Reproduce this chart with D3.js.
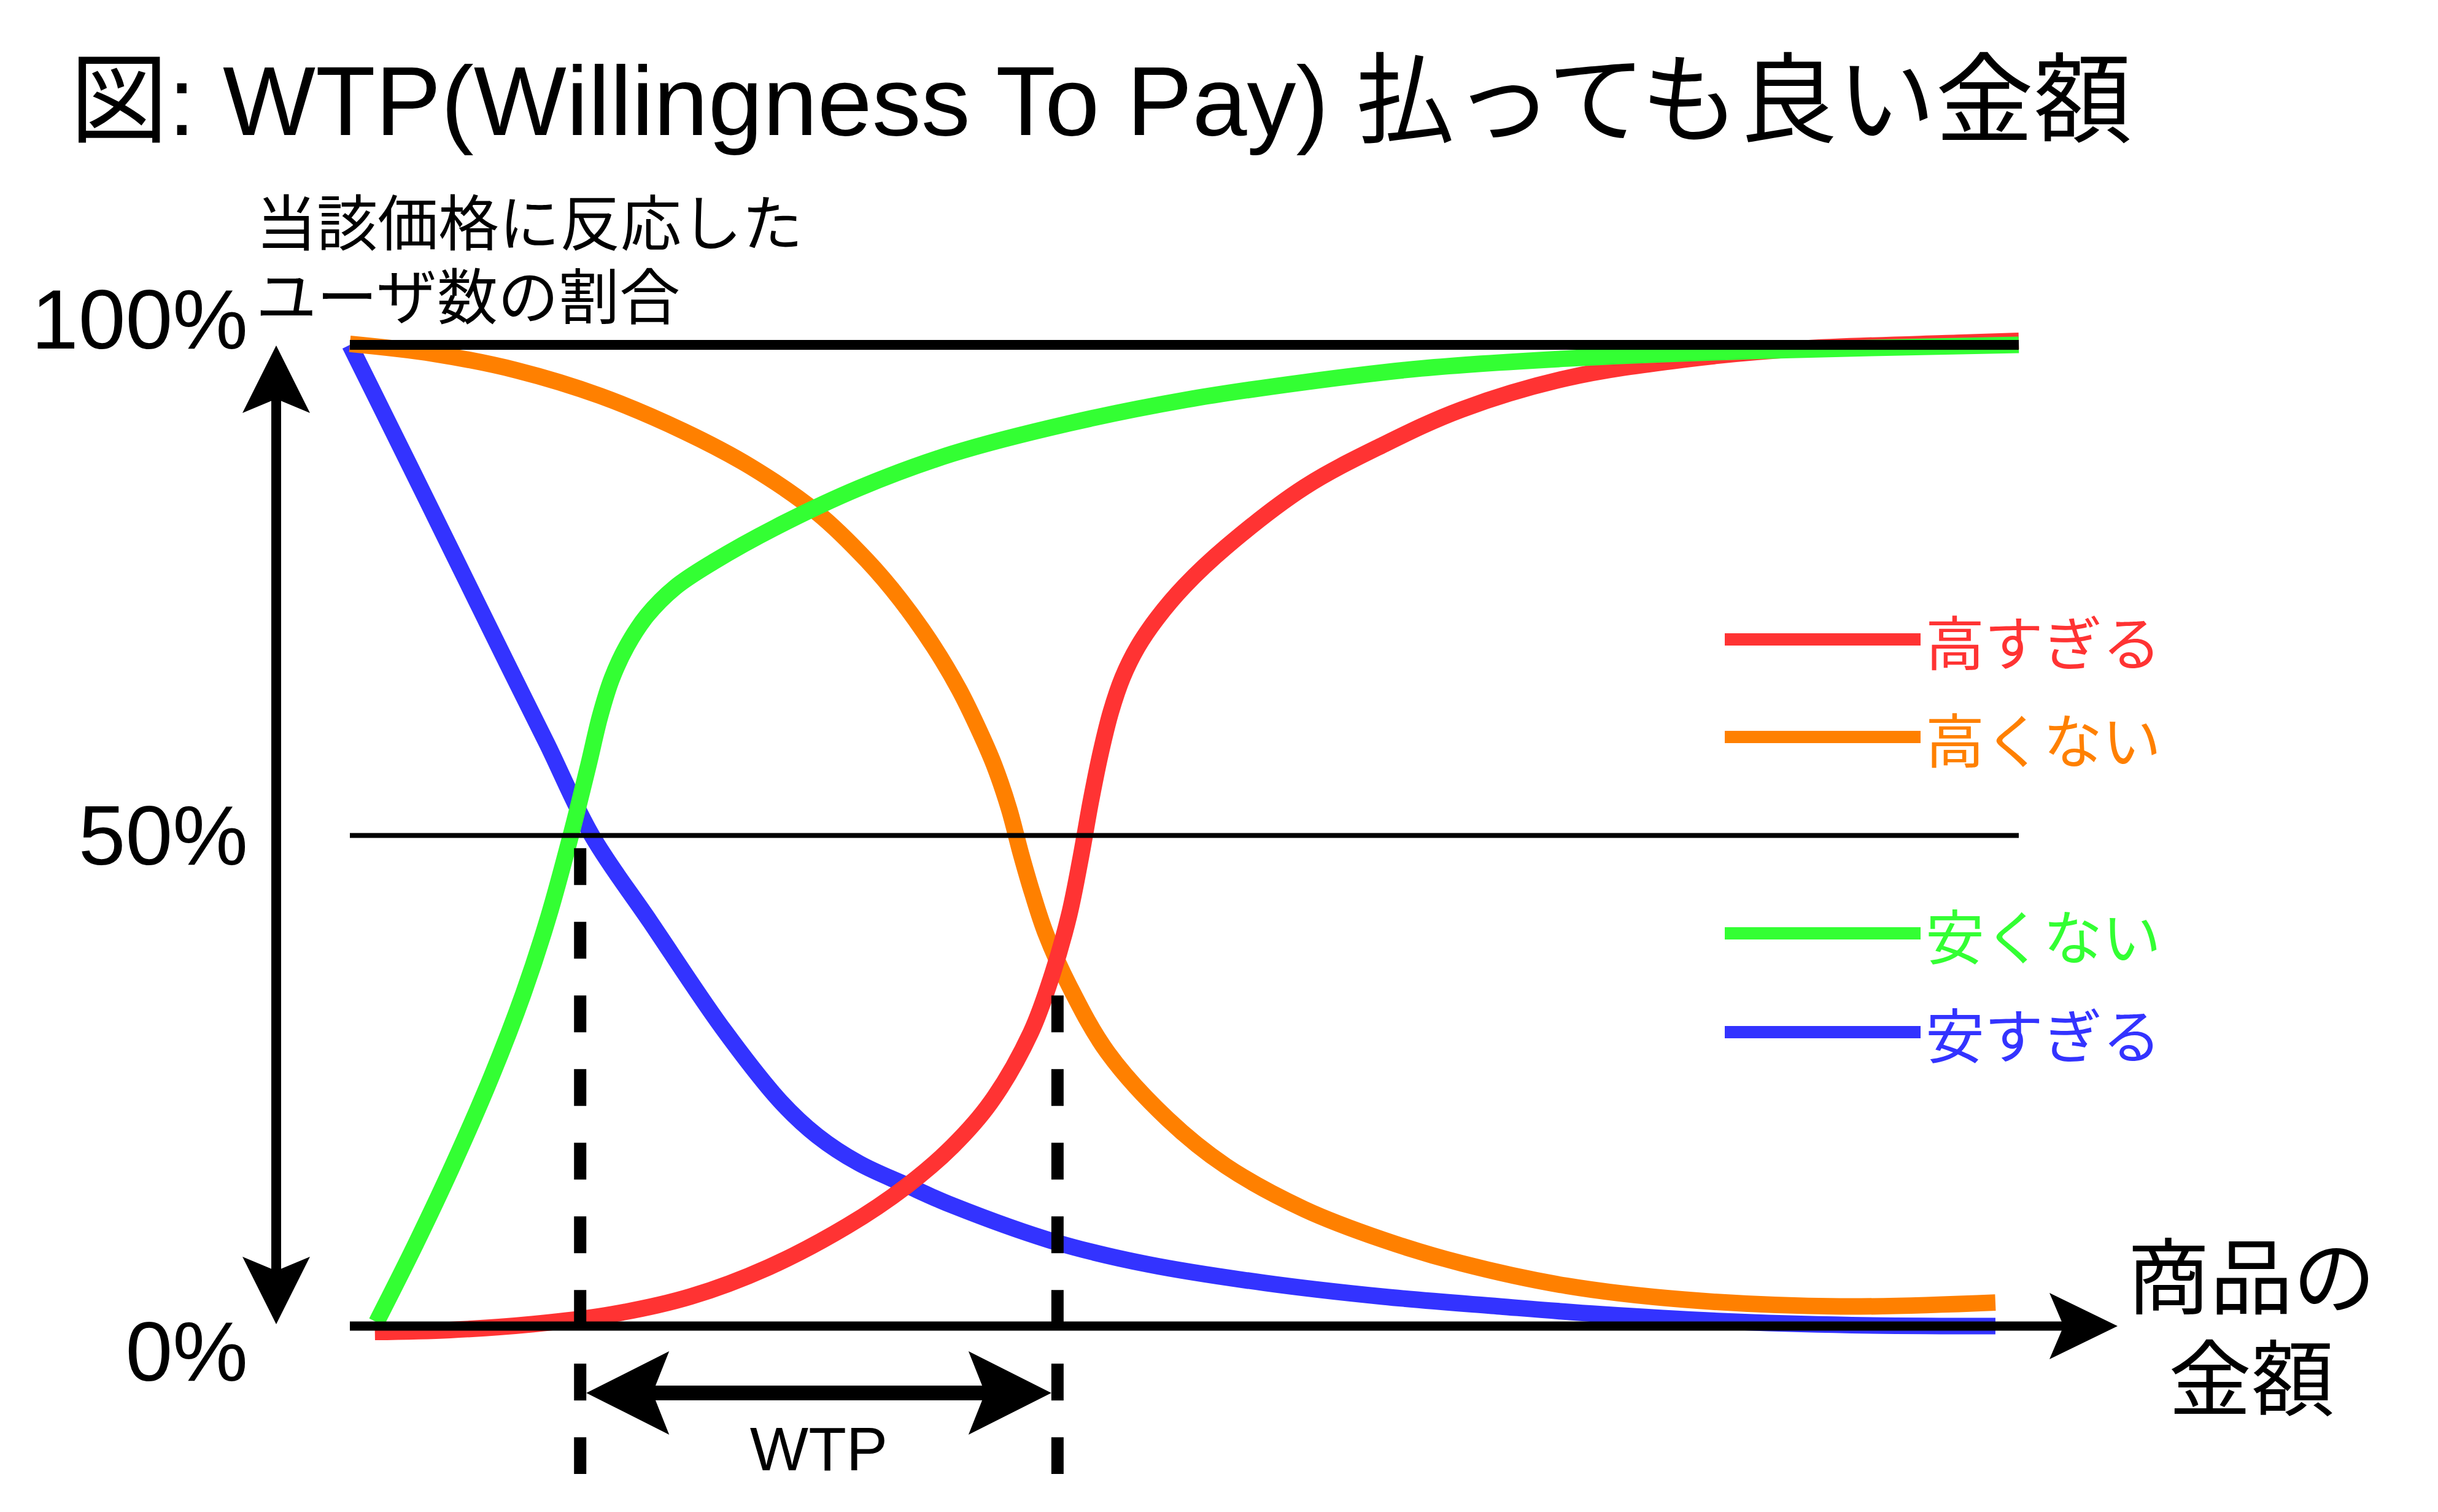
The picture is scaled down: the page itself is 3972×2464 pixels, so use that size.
<!DOCTYPE html>
<html>
<head>
<meta charset="utf-8">
<script src="https://cdn.jsdelivr.net/npm/d3@7"></script>
<style>
  html, body { margin: 0; padding: 0; background: #ffffff; }
  svg { display: block; }
</style>
</head>
<body>
<svg id="chart" width="3972" height="2464"></svg>
<script>
// ---------------- DATA ----------------
const titleText = "図: WTP(Willingness To Pay) 払っても良い金額";
const yAxisTitleLines = ["当該価格に反応した", "ユーザ数の割合"];
const xAxisTitleLines = ["商品の", "金額"];
const yTickValues = [0, 50, 100];
const yTickLabels = ["0%", "50%", "100%"];
const seriesNames = ["高すぎる", "高くない", "安くない", "安すぎる"];

// [price (0-100 scale), share of users %]
const tooExpensive = [[1.5,-0.6],[6.0,-0.4],[11.0,0.2],[15.7,1.2],[20.4,3.0],[25.1,6.0],[29.8,10.2],[33.3,14.2],[36.1,18.3],[38.4,22.8],[40.8,29.9],[42.1,35.9],[43.1,41.9],[43.8,47.8],[44.4,53.5],[45.0,58.5],[45.6,62.6],[46.3,66.1],[47.2,69.2],[48.4,72.2],[50.0,75.4],[52.5,79.4],[57.2,85.5],[61.9,89.8],[66.6,93.4],[72.9,96.6],[79.9,98.5],[86.9,99.6],[96.3,100.2],[100,100.4]];
const notExpensive = [[0,100.1],[5,99.1],[10,97.4],[15,94.8],[20,91.2],[24,87.6],[28,82.9],[31,78.0],[33,74.0],[35,69.2],[36.5,64.9],[37.6,61.1],[38.6,57.2],[39.5,52.7],[40.2,48.2],[40.9,44.1],[41.7,40.0],[43.1,34.7],[45.4,27.9],[49.0,21.1],[52.5,16.3],[57.2,11.9],[61.9,8.8],[66.6,6.4],[72.9,4.1],[79.9,2.7],[89.3,2.0],[98.6,2.4]];
const notCheap = [[1.6,0.4],[3.9,8.2],[6.2,16.5],[8.5,25.5],[10.4,33.9],[11.9,41.7],[13.3,50.4],[14.3,57.2],[15.0,62.2],[15.7,66.0],[16.6,69.3],[17.8,72.4],[19.5,75.3],[21.8,77.9],[25.5,81.4],[30.5,85.4],[36.1,88.9],[43.1,92.0],[50.1,94.4],[57.2,96.2],[64.2,97.6],[72.9,98.6],[84.6,99.4],[100,100]];
const tooCheap = [[0,100],[2.1,92.8],[4.6,84.2],[7.0,75.9],[9.4,67.6],[11.8,59.4],[14.5,50.0],[18.0,41.2],[22.4,30.2],[25.8,22.9],[28.0,19.4],[30.5,16.6],[33.3,14.4],[36.1,12.3],[42.4,8.5],[47.8,6.3],[54.8,4.4],[61.9,3.0],[68.9,2.0],[75.0,1.2],[82.2,0.5],[90.0,0.1],[98.6,0.0]];

// WTP range bounds (price) and the share level where each dashed marker starts
const wtpBounds = [13.8, 42.4];
const wtpMarkerTop = [48.7, 33.7];
const wtpLabel = "WTP";

// ---------------- STYLE / LAYOUT ----------------
const colors = ["#ff3333", "#ff8000", "#33ff33", "#3333ff"];
const latin = "'Liberation Sans', Arial, Helvetica, sans-serif";
const cjk = "'Noto Sans CJK JP', 'Noto Sans CJK SC', sans-serif";
const mixed = "'Liberation Sans', Arial, 'Noto Sans CJK JP', sans-serif";

const svg = d3.select("#chart");
svg.append("rect").attr("width", 3972).attr("height", 2464).attr("fill", "#fff");

const x = d3.scaleLinear().domain([0, 100]).range([570, 3289]);
const y = d3.scaleLinear().domain([0, 100]).range([2161, 562]);

// ---------- curves (bottom -> top: blue, orange, red, green) ----------
const seriesData = [tooExpensive, notExpensive, notCheap, tooCheap];
const drawOrder = [3, 1, 0, 2];
const line = d3.line().x(d => x(d[0])).y(d => y(d[1])).curve(d3.curveCatmullRom.alpha(0.5));
const gCurves = svg.append("g");
drawOrder.forEach(i => {
  gCurves.append("path")
    .attr("d", line(seriesData[i]))
    .attr("fill", "none")
    .attr("stroke", colors[i])
    .attr("stroke-width", 27)
    .attr("stroke-linecap", "butt")
    .attr("stroke-linejoin", "round");
});

// ---------- reference lines ----------
const gLines = svg.append("g");
gLines.append("line")
  .attr("x1", x(0)).attr("x2", x(100))
  .attr("y1", y(100)).attr("y2", y(100))
  .attr("stroke", "#000").attr("stroke-width", 16);
gLines.append("line")
  .attr("x1", x(0)).attr("x2", x(100))
  .attr("y1", y(50)).attr("y2", y(50))
  .attr("stroke", "#000").attr("stroke-width", 8);

function headPath(tx, ty, dx, dy, len, notch, half) {
  const px = -dy, py = dx;
  const pts = [
    [tx, ty],
    [tx - dx * len + px * half, ty - dy * len + py * half],
    [tx - dx * notch, ty - dy * notch],
    [tx - dx * len - px * half, ty - dy * len - py * half]
  ];
  return "M" + pts.map(p => p.join(",")).join("L") + "Z";
}

// x axis with arrow
const xTip = 3450;
gLines.append("line")
  .attr("x1", x(0)).attr("x2", xTip - 88)
  .attr("y1", y(0)).attr("y2", y(0))
  .attr("stroke", "#000").attr("stroke-width", 15);
gLines.append("path").attr("d", headPath(xTip, y(0), 1, 0, 111, 88, 54)).attr("fill", "#000");

// y double arrow
const yArrowX = 450;
const yTopTip = y(100) + 1, yBotTip = y(0) - 3;
gLines.append("line")
  .attr("x1", yArrowX).attr("x2", yArrowX)
  .attr("y1", yTopTip + 87).attr("y2", yBotTip - 87)
  .attr("stroke", "#000").attr("stroke-width", 16);
gLines.append("path").attr("d", headPath(yArrowX, yTopTip, 0, -1, 110, 87, 55)).attr("fill", "#000");
gLines.append("path").attr("d", headPath(yArrowX, yBotTip, 0, 1, 110, 87, 55)).attr("fill", "#000");

// WTP dashed markers
const dashBottom = 2402;
wtpBounds.forEach((b, i) => {
  gLines.append("line")
    .attr("x1", x(b)).attr("x2", x(b))
    .attr("y1", y(wtpMarkerTop[i])).attr("y2", dashBottom)
    .attr("stroke", "#000").attr("stroke-width", 20)
    .attr("stroke-dasharray", "60 60");
});

// WTP double arrow
const wtpY = 2270;
const wL = x(wtpBounds[0]) + 10, wR = x(wtpBounds[1]) - 10;
gLines.append("line")
  .attr("x1", wL + 105).attr("x2", wR - 105)
  .attr("y1", wtpY).attr("y2", wtpY)
  .attr("stroke", "#000").attr("stroke-width", 24);
gLines.append("path").attr("d", headPath(wL, wtpY, -1, 0, 135, 108, 68)).attr("fill", "#000");
gLines.append("path").attr("d", headPath(wR, wtpY, 1, 0, 135, 108, 68)).attr("fill", "#000");
svg.append("text")
  .attr("x", (wL + wR) / 2).attr("y", 2396)
  .attr("text-anchor", "middle")
  .attr("font-family", latin).attr("font-size", 101)
  .attr("fill", "#000")
  .text(wtpLabel);

// ---------- texts ----------
svg.append("text")
  .attr("x", 114).attr("y", 220)
  .attr("font-family", mixed).attr("font-size", 160)
  .attr("fill", "#000")
  .text(titleText);

const yTitleY = [357, 477];
yAxisTitleLines.forEach((t, i) => {
  svg.append("text")
    .attr("x", 417).attr("y", yTitleY[i])
    .attr("dominant-baseline", "central")
    .attr("font-family", cjk).attr("font-size", 99)
    .attr("fill", "#000")
    .text(t);
});

const tickBaselineOffset = { 0: 89, 50: 47, 100: 6 };
yTickValues.forEach((v, i) => {
  svg.append("text")
    .attr("x", 404).attr("y", y(v) + tickBaselineOffset[v])
    .attr("text-anchor", "end")
    .attr("font-family", latin).attr("font-size", 138)
    .attr("fill", "#000")
    .text(yTickLabels[i]);
});

const xTitleY = [2072, 2238];
xAxisTitleLines.forEach((t, i) => {
  svg.append("text")
    .attr("x", 3668).attr("y", xTitleY[i])
    .attr("text-anchor", "middle")
    .attr("dominant-baseline", "central")
    .attr("font-family", cjk).attr("font-size", 135)
    .attr("fill", "#000")
    .text(t);
});

// ---------- legend ----------
const legendY = [1042, 1201, 1521, 1682];
const gLegend = svg.append("g");
seriesNames.forEach((name, i) => {
  gLegend.append("line")
    .attr("x1", 2810).attr("x2", 3129)
    .attr("y1", legendY[i]).attr("y2", legendY[i])
    .attr("stroke", colors[i]).attr("stroke-width", 20);
  gLegend.append("text")
    .attr("x", 3137).attr("y", legendY[i])
    .attr("dominant-baseline", "central")
    .attr("font-family", cjk).attr("font-size", 96)
    .attr("fill", colors[i])
    .text(name);
});
</script>
</body>
</html>
